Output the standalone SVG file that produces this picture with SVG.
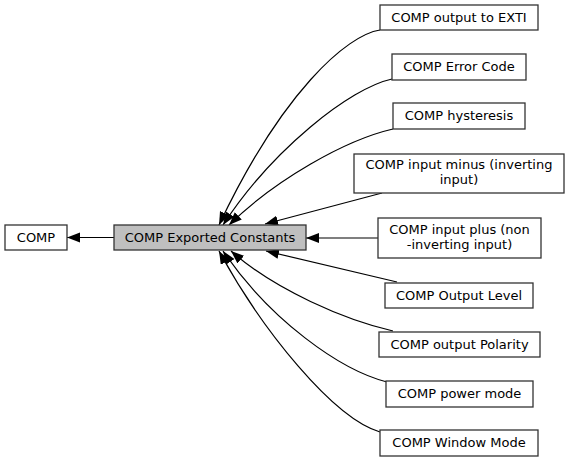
<svg xmlns="http://www.w3.org/2000/svg" width="569" height="461" viewBox="0 0 569 461">
<style>
.n rect{fill:#fff;stroke:#333;stroke-width:1.3}
.n.c rect{fill:#bfbfbf}
text{font-family:"DejaVu Sans",sans-serif;font-size:13px;fill:#000;text-anchor:middle}
.e path{fill:none;stroke:#000;stroke-width:1.2}
</style>
<defs>
<marker id="a" markerUnits="userSpaceOnUse" markerWidth="14" markerHeight="11" refX="13" refY="5" orient="auto">
<path d="M0,0 L13,5 L0,10 z" fill="#000"/>
</marker>
</defs>
<g class="e">
<path d="M114,237.5 L67,237.5" marker-end="url(#a)"/>
<path d="M378,238 L306,238" marker-end="url(#a)"/>
<path d="M380,30 C347,35 282,92 219,225" marker-end="url(#a)"/>
<path d="M392,79 C350,88 272,150 223,225" marker-end="url(#a)"/>
<path d="M393,129 C345,140 275,180 229,225" marker-end="url(#a)"/>
<path d="M382,193 L265,224" marker-end="url(#a)"/>
<path d="M397,282 L266,251" marker-end="url(#a)"/>
<path d="M393,331 C345,320 275,290 231,251" marker-end="url(#a)"/>
<path d="M387,382 C340,370 270,320 223,251" marker-end="url(#a)"/>
<path d="M380,432 C333,418 262,330 219,251" marker-end="url(#a)"/>
</g>
<g id="comp" class="n"><rect x="5" y="225" width="62" height="25"/><text x="36" y="242">COMP</text></g>
<g id="exported" class="n c"><rect x="114" y="225" width="192" height="25"/><text x="210" y="242">COMP Exported Constants</text></g>
<g id="exti" class="n"><rect x="380" y="5" width="158" height="25"/><text x="459" y="22">COMP output to EXTI</text></g>
<g id="error" class="n"><rect x="392" y="54" width="134" height="26"/><text x="459" y="71">COMP Error Code</text></g>
<g id="hyst" class="n"><rect x="393" y="103" width="132" height="26"/><text x="459" y="120">COMP hysteresis</text></g>
<g id="minus" class="n"><rect x="354" y="154" width="210" height="39"/><text x="459" y="169">COMP input minus (inverting</text><text x="459" y="184">input)</text></g>
<g id="plus" class="n"><rect x="378" y="218" width="163" height="40"/><text x="459.5" y="234">COMP input plus (non</text><text x="459.5" y="249">-inverting input)</text></g>
<g id="level" class="n"><rect x="385" y="283" width="148" height="25"/><text x="459" y="300">COMP Output Level</text></g>
<g id="polarity" class="n"><rect x="379" y="332" width="161" height="25"/><text x="459.5" y="349">COMP output Polarity</text></g>
<g id="power" class="n"><rect x="386" y="381" width="147" height="26"/><text x="459.5" y="398">COMP power mode</text></g>
<g id="window" class="n"><rect x="380" y="430" width="158" height="26"/><text x="459" y="447">COMP Window Mode</text></g>
</svg>
